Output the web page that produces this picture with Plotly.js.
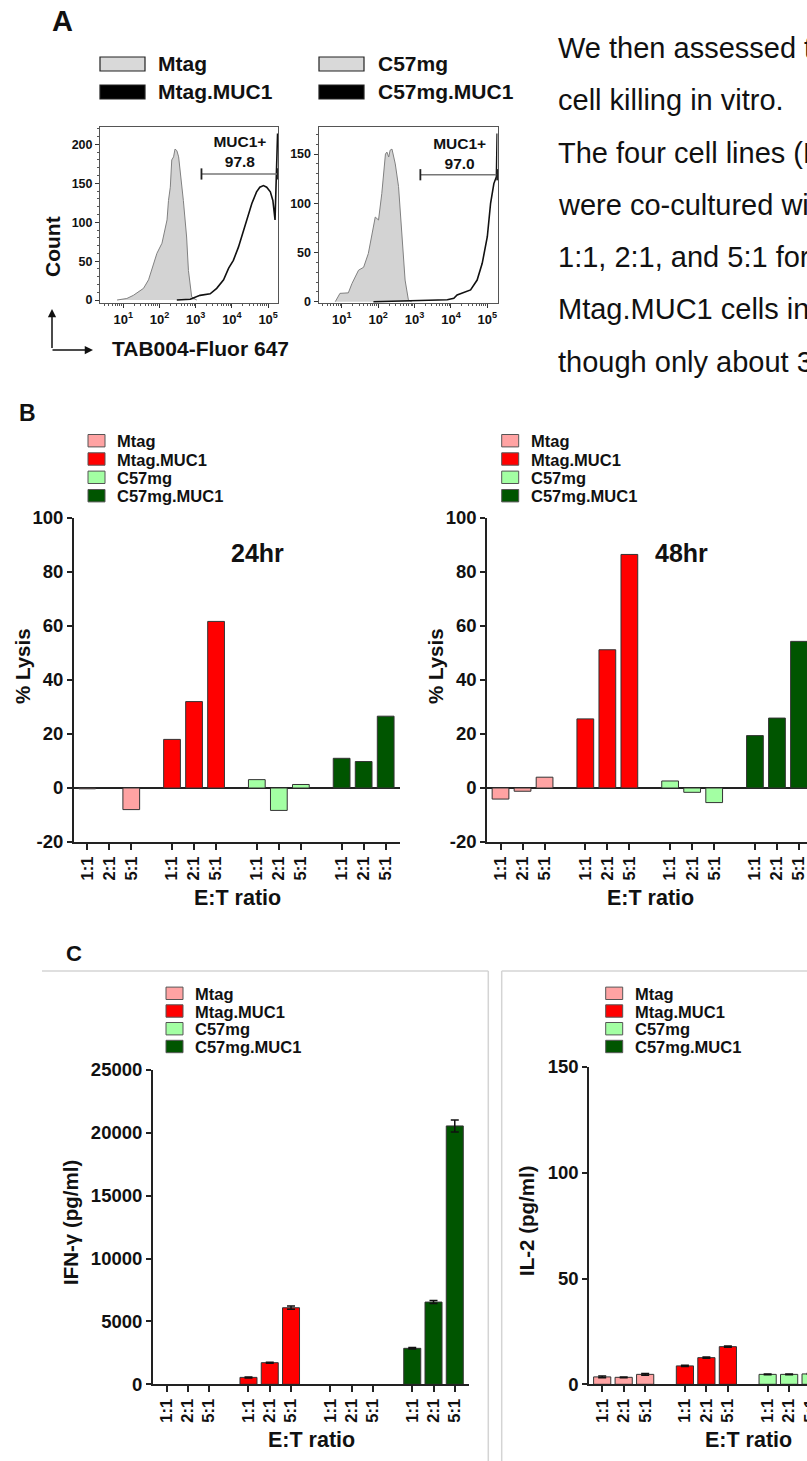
<!DOCTYPE html>
<html>
<head>
<meta charset="utf-8">
<script src="https://cdn.plot.ly/plotly-3.0.1.min.js"></script>
<style>
html,body{margin:0;padding:0;background:#fff;overflow:hidden;width:807px;height:1461px}
#fig{width:930px;height:1461px}
</style>
</head>
<body>
<div id="fig"></div>
<script>
// ---------------- DATA ----------------
// Panel A: flow histograms (log10 fluorescence, count)
const mtagLogFluor   = [0.83,1.10,1.28,1.56,1.70,1.84,1.93,2.07,2.16,2.21,2.25,2.30,2.34,2.39,2.43,2.48,2.53,2.57,2.66,2.75,2.80,2.89,3.03];
const mtagCount      = [0,2,6,15,26,47,60,73,90,103,128,145,180,184,194,192,184,167,128,81,38,4,0];
const mtagMucLogFluor= [2.48,2.85,3.12,3.40,3.58,3.77,3.91,4.04,4.18,4.27,4.41,4.55,4.68,4.77,4.87,4.96,5.06,5.13,5.19,5.26];
const mtagMucCount   = [0,1,6,8,15,26,41,51,68,81,103,124,139,145,147,145,139,128,103,214];
const c57LogFluor    = [0.82,0.95,1.18,1.28,1.46,1.60,1.73,1.83,1.92,2.01,2.10,2.20,2.24,2.29,2.33,2.38,2.47,2.56,2.65,2.74,2.83,2.92];
const c57Count       = [0,8.5,9,18.5,32,35,49,69,86,83,110,150,152,147,154,155,140,117,73,22,2,0];
const c57MucLogFluor = [1.87,2.33,2.79,3.44,3.90,4.08,4.17,4.54,4.72,4.86,5.00,5.09,5.18,5.25,5.27];
const c57MucCount    = [0,0.5,1,2,2,3.4,6.8,12,22,39,66,100,120,127,171];
const histLegendA    = ['Mtag','Mtag.MUC1'];
const histLegendB    = ['C57mg','C57mg.MUC1'];
const gateLabel      = 'MUC1+';
const muc1PositivePct= ['97.8','97.0'];
const gateLogRange   = [3.16,5.27];
const gateCount      = [162,129];
const gateTextCount  = [[201,175.6],[158.8,138.5]];
const gateTextLog    = [4.22,4.24];
const histXTicks     = [1,2,3,4,5];
const hist1YTicks    = [0,50,100,150,200];
const hist2YTicks    = [0,50,100,150];

// Panels B and C: bar charts
const ratios    = ['1:1','2:1','5:1'];
const cellLines = ['Mtag','Mtag.MUC1','C57mg','C57mg.MUC1'];
const lysisTicks= [-20,0,20,40,60,80,100];
const lysis24   = [[-0.3,0,-8.0],[18.0,32.0,61.7],[3.1,-8.3,1.3],[11.0,9.8,26.6]];
const lysis48   = [[-4.1,-1.2,4.0],[25.6,51.2,86.5],[2.6,-1.6,-5.4],[19.4,25.9,54.3]];
const ifng      = [[0,0,0],[550,1720,6090],[0,0,0],[2860,6540,20550]];
const ifngErr   = [[0,0,0],[40,40,130],[0,0,0],[60,120,480]];
const il2       = [[3.5,3.3,4.7],[8.7,12.6,17.8],[4.7,4.7,4.9],[30,60,120]];
const il2Err    = [[0.4,0.2,0.4],[0.3,0.3,0.3],[0.2,0.2,0.2],[2,3,5]];

const paragraphLines = ['We then assessed the','cell killing in vitro.','The four cell lines (Mtag,','were co-cultured with','1:1, 2:1, and 5:1 for','Mtag.MUC1 cells in','though only about 30%'];

// ---------------- STYLE / LAYOUT HELPERS ----------------
const W = 930, H = 1461;
const FONT = '"Liberation Sans", Arial, Helvetica, sans-serif';
const lineColors = ['#FFA3A3','#FF0000','#A3FFA3','#005500'];
const INK = '#111';
const px = v => v / W;
const py = v => 1 - v / H;
const GROUP_STEP = 3.85;
const pos = (g, i) => g * GROUP_STEP + i;
const tickPositions = [];
const tickTexts = [];
cellLines.forEach((_, g) => ratios.forEach((r, i) => { tickPositions.push(pos(g, i)); tickTexts.push(r); }));

const traces = [];
const annotations = [];
const shapes = [];

function txt(text, x, y, size, opts = {}) {
  annotations.push(Object.assign({
    xref: 'paper', yref: 'paper', x: px(x), y: py(y), text: text, showarrow: false,
    xanchor: 'center', yanchor: 'middle',
    font: {family: FONT, size: size, color: INK, weight: opts.weight || 'bold'}
  }, opts.extra || {}));
}

// ---------------- PANEL A ----------------
function histTraces(ax, ay, grayX, grayY, blackX, blackY, gi) {
  traces.push({type: 'scatter', xaxis: ax, yaxis: ay, x: grayX.map(v => Math.pow(10, v)), y: grayY,
    mode: 'lines', fill: 'tozeroy', fillcolor: '#d3d3d3', line: {color: '#808080', width: 1},
    showlegend: false, hoverinfo: 'skip'});
  traces.push({type: 'scatter', xaxis: ax, yaxis: ay, x: blackX.map(v => Math.pow(10, v)), y: blackY,
    mode: 'lines', line: {color: '#111', width: 1.6}, showlegend: false, hoverinfo: 'skip'});
  traces.push({type: 'scatter', xaxis: ax, yaxis: ay,
    x: gateLogRange.map(v => Math.pow(10, v)), y: [gateCount[gi], gateCount[gi]],
    mode: 'lines+markers', line: {color: '#777', width: 1.4},
    marker: {symbol: 'line-ns', size: 8, line: {width: 1.8, color: '#222'}},
    showlegend: false, hoverinfo: 'skip', cliponaxis: false});
  traces.push({type: 'scatter', xaxis: ax, yaxis: ay,
    x: [Math.pow(10, gateTextLog[gi]), Math.pow(10, gateTextLog[gi])], y: gateTextCount[gi],
    mode: 'text', text: [gateLabel, muc1PositivePct[gi]],
    textfont: {family: FONT, size: 15.5, color: INK, weight: 'bold'},
    showlegend: false, hoverinfo: 'skip', cliponaxis: false});
}
histTraces('x', 'y', mtagLogFluor, mtagCount, mtagMucLogFluor, mtagMucCount, 0);
histTraces('x2', 'y2', c57LogFluor, c57Count, c57MucLogFluor, c57MucCount, 1);

function histX(dom, anchor) {
  return {domain: dom, anchor: anchor, type: 'log', range: [0.36, 5.28],
    tickvals: histXTicks.map(e => Math.pow(10, e)), ticktext: histXTicks.map(e => '10<sup>' + e + '</sup>'),
    tickfont: {family: FONT, size: 13, color: INK, weight: 'bold'},
    ticks: 'outside', ticklen: 4, tickwidth: 1, tickcolor: '#333',
    showline: true, mirror: true, linecolor: '#555', linewidth: 1,
    showgrid: false, zeroline: false, fixedrange: true,
    minor: {ticks: 'outside', ticklen: 2, tickcolor: '#555', dtick: 'D1', showgrid: false}};
}
function histY(dom, anchor, rng, tv) {
  return {domain: dom, anchor: anchor, range: rng, tickvals: tv,
    tickfont: {family: FONT, size: 12.5, color: INK, weight: 'bold'},
    ticks: 'outside', ticklen: 4, tickwidth: 1, tickcolor: '#333',
    showline: true, mirror: true, linecolor: '#555', linewidth: 1,
    showgrid: false, zeroline: false, fixedrange: true,
    minor: {ticks: 'outside', ticklen: 2, tickcolor: '#555', dtick: 10, showgrid: false}};
}

// hist legends
function histLegend(x0, names, textX) {
  [[57, 71, '#d9d9d9', 63], [85, 99, '#000', 91]].forEach((r, k) => {
    shapes.push({type: 'rect', xref: 'paper', yref: 'paper', x0: px(x0), x1: px(x0 + 45), y0: py(r[1]), y1: py(r[0]),
      fillcolor: r[2], line: {color: '#222', width: 1.2}});
    txt(names[k], textX, r[3], 21, {extra: {xanchor: 'left'}});
  });
}
histLegend(100, histLegendA, 156);
histLegend(319, histLegendB, 376);

txt('Count', 53, 247, 21, {extra: {textangle: -90}});
txt('TAB004-Fluor 647', 110, 349, 21, {extra: {xanchor: 'left'}});
annotations.push({xref: 'paper', yref: 'paper', x: px(52), y: py(309), ax: 0, ay: 41, axref: 'pixel', ayref: 'pixel',
  text: ' ', showarrow: true, arrowhead: 2, arrowsize: 1.1, arrowwidth: 1.5, arrowcolor: '#111', font: {size: 1}});
annotations.push({xref: 'paper', yref: 'paper', x: px(93), y: py(350), ax: -42, ay: 0, axref: 'pixel', ayref: 'pixel',
  text: ' ', showarrow: true, arrowhead: 2, arrowsize: 1.1, arrowwidth: 1.5, arrowcolor: '#111', font: {size: 1}});

txt('A', 62.5, 21, 29);

// paragraph
paragraphLines.forEach((s, i) => {
  txt(s, 556, 48 + 52.3 * i, 29, {weight: 'normal', extra: {xanchor: 'left'}});
});

// ---------------- BAR CHARTS ----------------
function barTraces(ax, ay, data, err, width) {
  cellLines.forEach((name, g) => {
    const t = {type: 'bar', xaxis: ax, yaxis: ay, name: name,
      x: ratios.map((_, i) => pos(g, i)), y: data[g], width: width,
      marker: {color: lineColors[g], line: {color: '#333', width: data[g].map(v => v === 0 ? 0 : 1)}},
      showlegend: false, hoverinfo: 'skip'};
    if (err && err[g].some(e => e > 0)) {
      t.error_y = {type: 'data', array: err[g], visible: true, color: '#111', thickness: 1.5, width: 4};
    }
    traces.push(t);
  });
}
barTraces('x3', 'y3', lysis24, null, 0.76);
barTraces('x4', 'y4', lysis48, null, 0.76);
barTraces('x5', 'y5', ifng, ifngErr, 0.8);
barTraces('x6', 'y6', il2, il2Err, 0.8);

function barX(dom, anchor, rng) {
  return {domain: dom, anchor: anchor, range: rng, tickvals: tickPositions, ticktext: tickTexts,
    tickangle: -90, tickfont: {family: FONT, size: 16.5, color: INK, weight: 'bold'},
    ticks: 'outside', ticklen: 6, tickwidth: 2, tickcolor: '#222',
    showline: true, linewidth: 2, linecolor: '#222', showgrid: false, zeroline: false, fixedrange: true};
}
function barY(dom, anchor, rng, dtick, size, extra) {
  return Object.assign({domain: dom, anchor: anchor, range: rng, tick0: 0, dtick: dtick, tickformat: 'd',
    tickfont: {family: FONT, size: size, color: INK, weight: 'bold'},
    ticks: 'outside', ticklen: 5, tickwidth: 2, tickcolor: '#222',
    showline: true, linewidth: 2, linecolor: '#222', showgrid: false, zeroline: false, fixedrange: true}, extra || {});
}

function barLegend(swX, textX, rows) {
  cellLines.forEach((name, g) => {
    shapes.push({type: 'rect', xref: 'paper', yref: 'paper', x0: px(swX), x1: px(swX + 17),
      y0: py(rows[g] + 6.2), y1: py(rows[g] - 6.2), fillcolor: lineColors[g], line: {color: '#555', width: 1}});
    txt(name, textX, rows[g] + 0.5, 16.5, {extra: {xanchor: 'left'}});
  });
}
const rowsB = [440.7, 459, 477.3, 495.7];
const rowsC = [993.3, 1011, 1028.7, 1046.5];
barLegend(88, 115, rowsB);
barLegend(501.7, 529, rowsB);
barLegend(166, 193, rowsC);
barLegend(605.7, 632.7, rowsC);

txt('B', 27.5, 413, 23);
txt('24hr', 257, 553, 25);
txt('48hr', 681.7, 553, 25);
txt('% Lysis', 22, 666, 20.5, {extra: {textangle: -90}});
txt('% Lysis', 435, 666, 20.5, {extra: {textangle: -90}});
txt('E:T ratio', 237.7, 898, 21.5);
txt('E:T ratio', 650, 898, 21.5);

txt('C', 74, 953, 22);
txt('IFN-γ (pg/ml)', 70, 1223, 20.5, {extra: {textangle: -90}});
txt('IL-2 (pg/ml)', 526, 1221, 20.5, {extra: {textangle: -90}});
txt('E:T ratio', 311.7, 1440, 21.5);
txt('E:T ratio', 748, 1440, 21.5);

// panel C frames
const frameLine = {color: '#d4d4d4', width: 1.5};
[[42, 971, 488.3, 971], [488.3, 971, 488.3, 1461], [501.7, 971, 930, 971], [501.7, 971, 501.7, 1461]].forEach(s => {
  shapes.push({type: 'line', xref: 'paper', yref: 'paper', x0: px(s[0]), y0: py(s[1]), x1: px(s[2]), y1: py(s[3]), line: frameLine, layer: 'below'});
});

const lysisAxisExtra = {zeroline: true, zerolinewidth: 2, zerolinecolor: '#222',
  tickmode: 'array', tickvals: lysisTicks, ticktext: lysisTicks.map(v => String(v))};
const layout = {
  width: W, height: H, margin: {l: 0, r: 0, t: 0, b: 0},
  paper_bgcolor: '#fff', plot_bgcolor: 'rgba(0,0,0,0)',
  barmode: 'overlay', showlegend: false,
  font: {family: FONT, color: INK},
  xaxis: histX([px(100), px(278.3)], 'y'),
  yaxis: histY([py(303), py(126.5)], 'x', [-3.8, 223], hist1YTicks),
  xaxis2: histX([px(318.5), px(497.5)], 'y2'),
  yaxis2: histY([py(303), py(126.5)], 'x2', [-1.3, 178], hist2YTicks),
  xaxis3: barX([px(74), px(400)], 'y3', [-0.6, 14.2]),
  yaxis3: barY([py(842), py(518)], 'x3', [-20, 100], 20, 18.5, lysisAxisExtra),
  xaxis4: barX([px(487.3), px(813.3)], 'y4', [-0.6, 14.2]),
  yaxis4: barY([py(842), py(518)], 'x4', [-20, 100], 20, 18.5, lysisAxisExtra),
  xaxis5: barX([px(153), px(468.6)], 'y5', [-0.64, 14.2]),
  yaxis5: barY([py(1384.3), py(1070)], 'x5', [0, 25000], 5000, 18.5),
  xaxis6: barX([px(589.3), px(907.3)], 'y6', [-0.6, 14.2]),
  yaxis6: barY([py(1384.3), py(1067)], 'x6', [0, 150], 50, 18.5),
  annotations: annotations,
  shapes: shapes
};

Plotly.newPlot('fig', traces, layout, {staticPlot: true, displayModeBar: false});
</script>
</body>
</html>
